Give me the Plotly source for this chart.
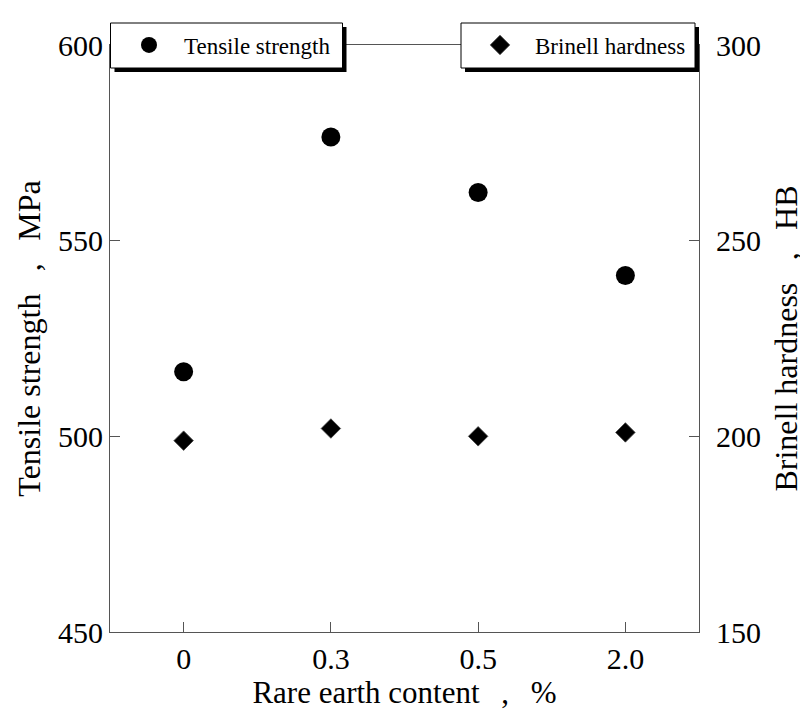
import plotly.graph_objects as go

# ---- data ----
categories = ["0", "0.3", "0.5", "2.0"]
tensile_strength = [516.5, 576.5, 562.3, 541.1]   # MPa (left axis)
brinell_hardness = [198.9, 202.0, 200.0, 201.0]   # HB (right axis)
left_ticks = [450, 500, 550, 600]
right_ticks = [150, 200, 250, 300]

FONT = "Liberation Serif, Times New Roman, serif"
W, H = 808, 709
L, R, T, B = 102, 117, 37, 85
PW, PH = W - L - R, H - T - B
SEP = "\u00a0\u00a0\u2009,\u2009\u00a0\u00a0"


def px(xp):
    return (xp - L) / PW


def py(yp):
    return (H - B - yp) / PH


fig = go.Figure()
fig.add_trace(go.Scatter(
    x=categories, y=tensile_strength, mode="markers", name="Tensile strength",
    marker=dict(symbol="circle", size=19, color="black"),
    yaxis="y", legend="legend"))
fig.add_trace(go.Scatter(
    x=categories, y=brinell_hardness, mode="markers", name="Brinell hardness",
    marker=dict(symbol="diamond", size=15, color="black",
                line=dict(color="#444", width=0.8)),
    yaxis="y2", legend="legend2"))

axis_common = dict(showline=True, linecolor="#555", linewidth=1,
                   ticks="inside", ticklen=10, tickcolor="#555", tickwidth=1,
                   showgrid=False, zeroline=False,
                   tickfont=dict(family=FONT, size=30, color="black"))

fig.update_layout(
    width=W, height=H, autosize=False,
    margin=dict(l=L, r=R, t=T, b=B),
    paper_bgcolor="white", plot_bgcolor="white",
    font=dict(family=FONT, color="black"),
    xaxis=dict(type="category", range=[-0.5, 3.5], mirror=True,
               title=dict(text="Rare earth content" + SEP + "%",
                          font=dict(family=FONT, size=31), standoff=6),
               **axis_common),
    yaxis=dict(range=[450, 600], tickvals=left_ticks,
               title=dict(text="Tensile strength" + SEP + "MPa",
                          font=dict(family=FONT, size=32), standoff=7),
               **axis_common),
    yaxis2=dict(range=[150, 300], tickvals=right_ticks, overlaying="y",
                side="right", anchor="x", ticklabelstandoff=10,
                title=dict(text="Brinell hardness" + SEP + "HB",
                           font=dict(family=FONT, size=32), standoff=14),
                **axis_common),
    legend=dict(x=px(106), y=1.0, xanchor="left", yanchor="middle",
                bgcolor="rgba(0,0,0,0)", borderwidth=0, itemwidth=60,
                font=dict(family=FONT, size=23, color="black")),
    legend2=dict(x=px(457), y=1.0, xanchor="left", yanchor="middle",
                 bgcolor="rgba(0,0,0,0)", borderwidth=0, itemwidth=60,
                 font=dict(family=FONT, size=23, color="black")),
    showlegend=True,
)

# legend boxes with drop shadow (layout decoration)
for x0, x1 in [(102.5, 334.5), (453, 687)]:
    fig.add_shape(type="rect", xref="paper", yref="paper", layer="above",
                  x0=px(x0 + 4), x1=px(x1 + 4), y0=py(64), y1=py(19),
                  fillcolor="black", line=dict(width=0))
    fig.add_shape(type="rect", xref="paper", yref="paper", layer="above",
                  x0=px(x0), x1=px(x1), y0=py(60), y1=py(15),
                  fillcolor="white", line=dict(color="black", width=1))

fig.write_html("out.html")
